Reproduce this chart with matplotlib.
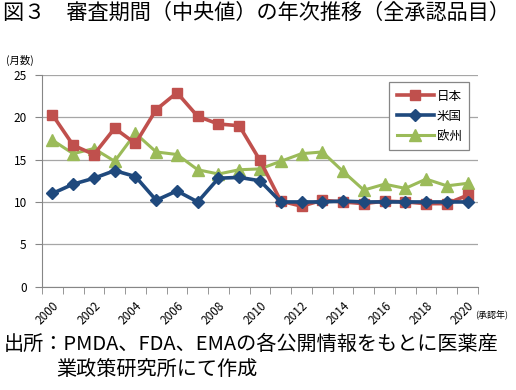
import matplotlib
matplotlib.use('Agg')
import matplotlib.pyplot as plt

plt.rcParams['font.family'] = ['Noto Sans CJK JP', 'DejaVu Sans']

# data (months, median review time)
years = list(range(2000, 2021))
japan = [20.3, 16.7, 15.6, 18.7, 16.9, 20.9, 22.9, 20.1, 19.2, 19.0, 14.9,
         10.1, 9.5, 10.2, 10.0, 9.8, 10.1, 10.0, 9.8, 9.8, 10.8]
usa = [11.0, 12.1, 12.8, 13.7, 13.0, 10.2, 11.3, 10.0, 12.8, 12.9, 12.5,
       10.0, 10.0, 10.0, 10.1, 10.0, 10.0, 10.0, 10.0, 10.0, 10.0]
europe = [17.3, 15.7, 16.3, 14.8, 18.1, 15.9, 15.6, 13.8, 13.3, 13.8, 13.9,
          14.8, 15.7, 15.9, 13.6, 11.4, 12.1, 11.6, 12.7, 11.9, 12.2]
labels = ['日本', '米国', '欧州']

fig = plt.figure(figsize=(5.16, 3.9), dpi=100)
ax = fig.add_axes([0.0814, 0.265, 0.845, 0.543])

x = list(range(len(years)))
ax.plot(x, japan, color='#C0504D', lw=2.6, marker='s', ms=7.5, label=labels[0], zorder=3)
ax.plot(x, usa, color='#1F497D', lw=2.6, marker='D', ms=6.5, label=labels[1], zorder=4)
ax.plot(x, europe, color='#9BBB59', lw=2.2, marker='^', ms=8.5, label=labels[2], zorder=2)

ax.set_xlim(-0.5, len(years) - 0.5)
ax.set_ylim(0, 25)
ax.set_yticks(range(0, 26, 5))
ax.yaxis.grid(True, color='#A6A6A6', lw=0.9)
ax.set_axisbelow(True)

# year labels on every other category, tick marks on category boundaries
ax.set_xticks(x[::2])
ax.set_xticklabels([str(y) for y in years[::2]], rotation=45,
                   ha='right', va='top', rotation_mode='anchor', fontsize=8.5)
ax.set_xticks([i - 0.5 for i in range(len(years) + 1)], minor=True)
ax.tick_params(axis='x', which='major', length=0, pad=9)
ax.tick_params(axis='x', which='minor', length=5, color='#868686')
ax.tick_params(axis='y', length=5, color='#868686', labelsize=8.5, pad=6)

for s in ['top', 'right']:
    ax.spines[s].set_visible(False)
for s in ['left', 'bottom']:
    ax.spines[s].set_color('#868686')

leg = ax.legend(loc='upper right', bbox_to_anchor=(0.994, 0.995), fontsize=9,
                fancybox=False, edgecolor='#868686', framealpha=1,
                handlelength=3.0, borderpad=0.6, labelspacing=0.55, handletextpad=0.2)
leg.get_frame().set_linewidth(0.9)

fig.text(0.006, 0.966, '図３　審査期間（中央値）の年次推移（全承認品目）', fontsize=15.2, va='center', ha='left')
fig.text(0.012, 0.846, '(月数)', fontsize=7.5, va='center', ha='left')
fig.text(0.92, 0.192, '(承認年)', fontsize=6.5, va='center', ha='left')
fig.text(0.008, 0.118, '出所：PMDA、FDA、EMAの各公開情報をもとに医薬産', fontsize=14.5, va='center', ha='left')
fig.text(0.11, 0.051, '業政策研究所にて作成', fontsize=14.5, va='center', ha='left')

fig.savefig('out.png', dpi=100)
